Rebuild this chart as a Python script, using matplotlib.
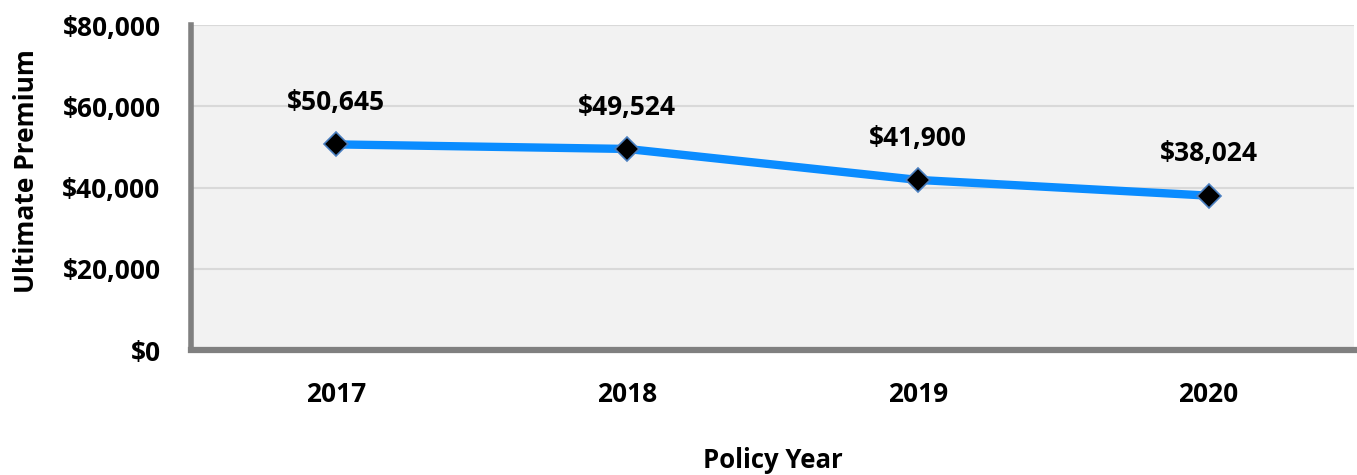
import matplotlib.pyplot as plt
from matplotlib.ticker import FuncFormatter

years = ["2017", "2018", "2019", "2020"]
premium = [50645, 49524, 41900, 38024]
y_ticks = [0, 20000, 40000, 60000, 80000]

plt.rcParams['font.family'] = ['Open Sans', 'DejaVu Sans']
plt.rcParams['font.weight'] = 'bold'

fig = plt.figure(figsize=(13.57, 4.75), dpi=100)
ax = fig.add_axes([0.1408, 0.263, 0.857, 0.684])
ax.set_facecolor('#f2f2f2')

x = list(range(len(years)))
ax.plot(x, premium, color='#0a8cff', linewidth=6, zorder=3, solid_capstyle='round')
ax.plot(x, premium, linestyle='none', marker='D', markersize=12,
        markerfacecolor='black', markeredgecolor='#4a7fc0', markeredgewidth=1.2, zorder=4)

for xi, v in zip(x, premium):
    ax.annotate("${:,.0f}".format(v), (xi, v), xytext=(0, 30), textcoords='offset points',
                ha='center', va='center', fontsize=19, fontweight='bold')

ax.set_xlim(-0.5, 3.5)
ax.set_ylim(0, 80000)
ax.set_yticks(y_ticks)
ax.yaxis.set_major_formatter(FuncFormatter(lambda v, p: "${:,.0f}".format(v)))
ax.set_xticks(x)
ax.set_xticklabels(years)
ax.tick_params(axis='both', length=0, labelsize=19)
for lbl in ax.get_xticklabels() + ax.get_yticklabels():
    lbl.set_fontweight('bold')
ax.tick_params(axis='y', pad=22)
ax.tick_params(axis='x', pad=22)
ax.grid(axis='y', color='#d9d9d9', linewidth=1.5)
ax.set_axisbelow(True)

for s in ['top', 'right']:
    ax.spines[s].set_visible(False)
ax.spines['left'].set_color('#808080')
ax.spines['left'].set_linewidth(4)
ax.spines['bottom'].set_color('#808080')
ax.spines['bottom'].set_linewidth(4.5)

ax.set_ylabel("Ultimate Premium", fontsize=19, fontweight='bold')
ax.yaxis.set_label_coords(-0.13, 0.55)
ax.set_xlabel("Policy Year", fontsize=18.5, fontweight='bold', labelpad=28)

fig.savefig("out.png", dpi=100)
